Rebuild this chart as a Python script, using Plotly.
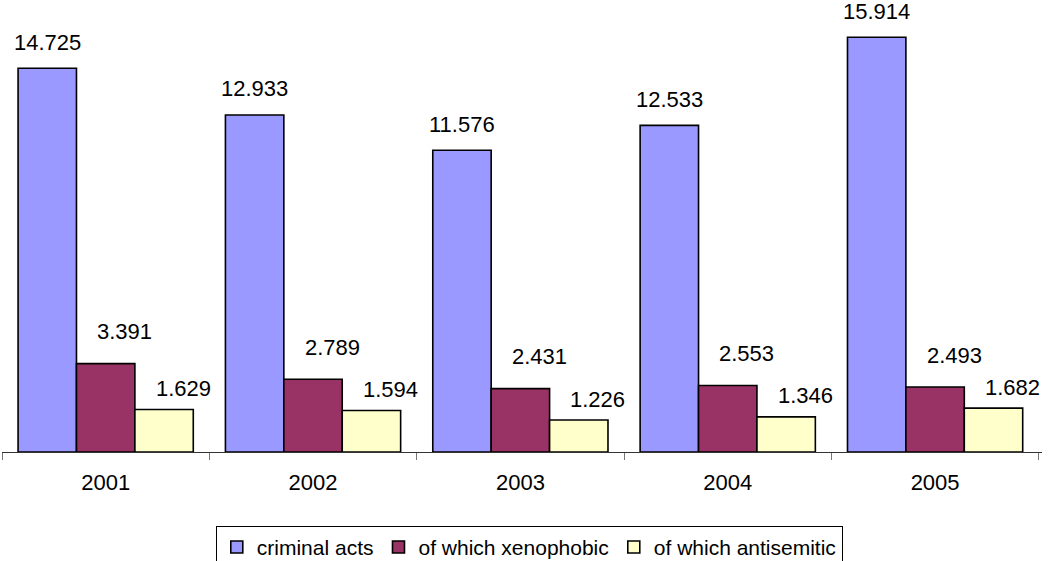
import plotly.graph_objects as go

years = ["2001", "2002", "2003", "2004", "2005"]
criminal_acts = [14.725, 12.933, 11.576, 12.533, 15.914]
xenophobic = [3.391, 2.789, 2.431, 2.553, 2.493]
antisemitic = [1.629, 1.594, 1.226, 1.346, 1.682]
labels_criminal = ["14.725", "12.933", "11.576", "12.533", "15.914"]
labels_xeno = ["3.391", "2.789", "2.431", "2.553", "2.493"]
labels_anti = ["1.629", "1.594", "1.226", "1.346", "1.682"]

series = [
    ("criminal acts", criminal_acts, labels_criminal, "#9999FF"),
    ("of which xenophobic", xenophobic, labels_xeno, "#993366"),
    ("of which antisemitic", antisemitic, labels_anti, "#FFFFCC"),
]

FONT = "Liberation Sans, Arial, sans-serif"
bargap = 0.155
bw = (1 - bargap) / 3

fig = go.Figure()
for name, vals, _, col in series:
    fig.add_trace(go.Bar(
        name=name, x=years, y=vals,
        marker=dict(color=col, line=dict(color="black", width=1.6)),
    ))

shifts = [(0, 26), (19, 32), (19, 21)]
for j, (name, vals, labs, col) in enumerate(series):
    for i, (v, t) in enumerate(zip(vals, labs)):
        fig.add_annotation(
            x=i + (j - 1) * bw, y=v, xref="x", yref="y",
            text=t, showarrow=False,
            xshift=shifts[j][0], yshift=shifts[j][1],
            yanchor="middle", xanchor="center",
            font=dict(size=22, color="black", family=FONT),
        )

fig.update_layout(
    width=1048, height=561,
    margin=dict(l=2, r=6, t=35, b=109, autoexpand=False),
    paper_bgcolor="white", plot_bgcolor="white",
    barmode="group", bargap=bargap, bargroupgap=0,
    font=dict(family=FONT, size=22, color="black"),
    showlegend=True,
    legend=dict(
        orientation="h", x=0.507, xanchor="center", y=-0.177, yanchor="top",
        bordercolor="black", borderwidth=1,
        font=dict(size=21, family=FONT, color="black"),
        itemwidth=30, tracegroupgap=0,
    ),
    xaxis=dict(
        type="category", showline=True, linecolor="#333333", linewidth=1,
        ticks="outside", tickson="boundaries", ticklen=7, tickcolor="#777777",
        tickfont=dict(size=22, family=FONT, color="black"),
        ticklabelstandoff=11,
        showgrid=False, zeroline=False, automargin=False,
    ),
    yaxis=dict(
        range=[0, 16], visible=False, showgrid=False, zeroline=False,
        automargin=False,
    ),
)

fig.write_html(
    "out.html",
    config={"displayModeBar": False},
    post_script="document.body.style.margin='0';document.body.style.overflow='hidden';",
)
